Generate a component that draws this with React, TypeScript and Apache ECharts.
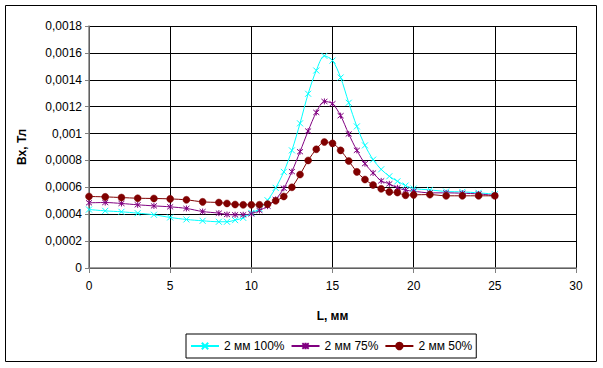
import React, { useEffect, useRef } from "react";
import * as echarts from "echarts";

const xValues = [0, 1, 2, 3, 4, 5, 6, 7, 8, 8.5, 9, 9.5, 10, 10.5, 11, 11.5, 12, 12.5, 13, 13.5, 14, 14.5, 15, 15.5, 16, 16.5, 17, 17.5, 18, 18.5, 19, 19.5, 20, 21, 22, 23, 24, 25];

const s100 = [0.000435, 0.000425, 0.000418, 0.000408, 0.000396, 0.000376, 0.000361, 0.000351, 0.000344, 0.000344, 0.000356, 0.000373, 0.00041, 0.00044, 0.000504, 0.000596, 0.000715, 0.000875, 0.001076, 0.001296, 0.001469, 0.001578, 0.001543, 0.001417, 0.001229, 0.001053, 0.000912, 0.000806, 0.000734, 0.000682, 0.000645, 0.000613, 0.000591, 0.000581, 0.000569, 0.000566, 0.000559, 0.000549];

const s75 = [0.000485, 0.000487, 0.00048, 0.00047, 0.000462, 0.000455, 0.000443, 0.00042, 0.000408, 0.000398, 0.000396, 0.000396, 0.000403, 0.000428, 0.00046, 0.00051, 0.000593, 0.000717, 0.000865, 0.001019, 0.001157, 0.001239, 0.001222, 0.001133, 0.000997, 0.000875, 0.000776, 0.000707, 0.000648, 0.000626, 0.000596, 0.000579, 0.000571, 0.000559, 0.000559, 0.000556, 0.000551, 0.000539];

const s50 = [0.000532, 0.000529, 0.000524, 0.000519, 0.000517, 0.000514, 0.000507, 0.000492, 0.000487, 0.00048, 0.000472, 0.00047, 0.00047, 0.00047, 0.000475, 0.0005, 0.000532, 0.0006, 0.000695, 0.0008, 0.000883, 0.000937, 0.000927, 0.000875, 0.000796, 0.000715, 0.000658, 0.000618, 0.000589, 0.000566, 0.000561, 0.000541, 0.000544, 0.000546, 0.000537, 0.000537, 0.000537, 0.000537];

const seriesNames = ["2 мм 100%", "2 мм 75%", "2 мм 50%"];
const xAxisTitle = "L, мм";
const yAxisTitle = "Bx, Тл";

const FONT = "Liberation Sans, Arial, sans-serif";

const crossPath = "path://M0,0L10,10M10,0L0,10";
const starPath = "path://M0,0L10,10M10,0L0,10M5,-1L5,11";

function toPairs(vals: number[]) {
  return xValues.map((x, i) => [x, vals[i]]);
}

export default function App() {
  const ref = useRef<HTMLDivElement>(null);
  useEffect(() => {
    if (!ref.current) return;
    const chart = echarts.init(ref.current, undefined, { renderer: "svg" });
    chart.setOption({
      animation: false,
      backgroundColor: "#fff",
      textStyle: { fontFamily: FONT },
      graphic: [
        {
          type: "rect",
          shape: { x: 5.5, y: 5.5, width: 591, height: 356 },
          style: { fill: "none", stroke: "#000", lineWidth: 1 },
          silent: true,
        },
      ],
      grid: { left: 89, top: 26, width: 487, height: 242, containLabel: false },
      xAxis: {
        type: "value",
        min: 0,
        max: 30,
        interval: 5,
        name: xAxisTitle,
        nameLocation: "middle",
        nameGap: 42,
        nameTextStyle: { fontWeight: "bold", fontSize: 12, color: "#000", fontFamily: FONT },
        axisLine: { lineStyle: { color: "#808080", width: 1.5 } },
        axisTick: { show: true, length: 5, lineStyle: { color: "#808080" } },
        axisLabel: { fontSize: 12, color: "#000", margin: 12, fontFamily: FONT },
        splitLine: { show: true, lineStyle: { color: "#000", width: 1 } },
      },
      yAxis: {
        type: "value",
        min: 0,
        max: 0.0018,
        interval: 0.0002,
        name: yAxisTitle,
        nameLocation: "middle",
        nameGap: 61,
        nameRotate: 90,
        nameTextStyle: { fontWeight: "bold", fontSize: 12, color: "#000", fontFamily: FONT },
        axisLine: { show: true, lineStyle: { color: "#808080", width: 1.5 } },
        axisTick: { show: true, length: 4, lineStyle: { color: "#808080" } },
        axisLabel: {
          fontSize: 12,
          color: "#000",
          margin: 7,
          fontFamily: FONT,
          formatter: (v: number) => (v === 0 ? "0" : String(+v.toFixed(4)).replace(".", ",")),
        },
        splitLine: { show: true, lineStyle: { color: "#000", width: 1 } },
      },
      legend: {
        left: 186,
        top: 334,
        width: 295,
        itemWidth: 28,
        itemHeight: 8,
        itemGap: 6,
        padding: [6, 4, 6, 4],
        borderColor: "#000",
        borderWidth: 1,
        backgroundColor: "#fff",
        textStyle: { fontSize: 12, color: "#000", fontFamily: FONT },
        data: seriesNames,
      },
      series: [
        {
          name: seriesNames[0],
          type: "line",
          data: toPairs(s100),
          smooth: 0.3,
          symbol: crossPath,
          symbolSize: 6,
          lineStyle: { color: "#00FFFF", width: 1 },
          itemStyle: { color: "#00FFFF", borderColor: "#00FFFF", borderWidth: 1 },
        },
        {
          name: seriesNames[1],
          type: "line",
          data: toPairs(s75),
          smooth: 0.3,
          symbol: starPath,
          symbolSize: 6,
          lineStyle: { color: "#800080", width: 1 },
          itemStyle: { color: "#800080", borderColor: "#800080", borderWidth: 1 },
        },
        {
          name: seriesNames[2],
          type: "line",
          data: toPairs(s50),
          smooth: 0.3,
          symbol: "circle",
          symbolSize: 7,
          lineStyle: { color: "#800000", width: 1 },
          itemStyle: { color: "#800000", borderColor: "#800000", borderWidth: 0.5 },
        },
      ],
    });
    return () => chart.dispose();
  }, []);
  return (
    <div
      ref={ref}
      style={{ position: "fixed", left: 0, top: 0, width: 603, height: 368 }}
    />
  );
}
